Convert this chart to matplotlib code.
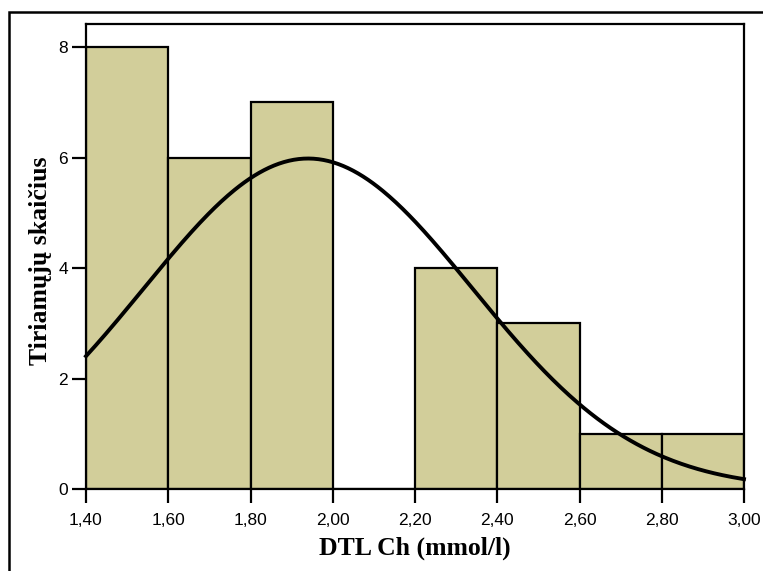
import numpy as np
import matplotlib
matplotlib.use("Agg")
import matplotlib.pyplot as plt
from matplotlib.patches import Rectangle

# Data
bin_edges = [1.40, 1.60, 1.80, 2.00, 2.20, 2.40, 2.60, 2.80, 3.00]
counts = [8, 6, 7, 0, 4, 3, 1, 1]
x_tick_values = [1.40, 1.60, 1.80, 2.00, 2.20, 2.40, 2.60, 2.80, 3.00]
x_tick_labels = ["1,40", "1,60", "1,80", "2,00", "2,20", "2,40", "2,60", "2,80", "3,00"]
y_tick_values = [0, 2, 4, 6, 8]
fit_mean = 1.94
fit_sd = 0.40

W, H = 763, 571
fig = plt.figure(figsize=(W / 100, H / 100), dpi=100)
fig.patch.set_facecolor("white")

# Outer frame (left and top visible)
fig.add_artist(Rectangle((9 / W, -0.1), 1.2, (H - 12) / H + 0.1, transform=fig.transFigure,
                         fill=False, edgecolor="black", linewidth=1.8, zorder=0))

ax = fig.add_axes([86 / W, (H - 489) / H, (744 - 86) / W, (489 - 24) / H])
widths = np.diff(bin_edges)
ax.bar(bin_edges[:-1], counts, width=widths, align="edge", color="#D2CE9A",
       edgecolor="black", linewidth=1.6, zorder=2)

n_total = sum(counts)
bw = widths[0]
xs = np.linspace(bin_edges[0], bin_edges[-1], 400)
ys = n_total * bw / (fit_sd * np.sqrt(2 * np.pi)) * np.exp(-0.5 * ((xs - fit_mean) / fit_sd) ** 2)
ax.plot(xs, ys, color="black", linewidth=2.8, zorder=3, clip_on=False)

ax.set_xlim(bin_edges[0], bin_edges[-1])
ax.set_ylim(0, 8.42)
ax.set_xticks(x_tick_values)
ax.set_xticklabels(x_tick_labels)
ax.set_yticks(y_tick_values)
ax.set_yticklabels([str(v) for v in y_tick_values])
for s in ax.spines.values():
    s.set_linewidth(1.6)
ax.tick_params(axis="both", direction="out", length=10, width=1.6, labelsize=12.5)
ax.tick_params(axis="x", pad=7.5)
ax.tick_params(axis="y", pad=3)
for lab in ax.get_xticklabels() + ax.get_yticklabels():
    lab.set_fontfamily("Liberation Sans")

fig.text(415 / W, (H - 555) / H, "DTL Ch (mmol/l)", fontfamily="Liberation Serif",
         fontweight="bold", fontsize=18.5, ha="center", va="baseline")
fig.text(41 / W, 1 - 261 / H, "Tiriamųjų skaičius", fontfamily="Liberation Serif",
         fontweight="bold", fontsize=18.5, ha="center", va="center", rotation=90)

fig.savefig("out.png", dpi=100)
